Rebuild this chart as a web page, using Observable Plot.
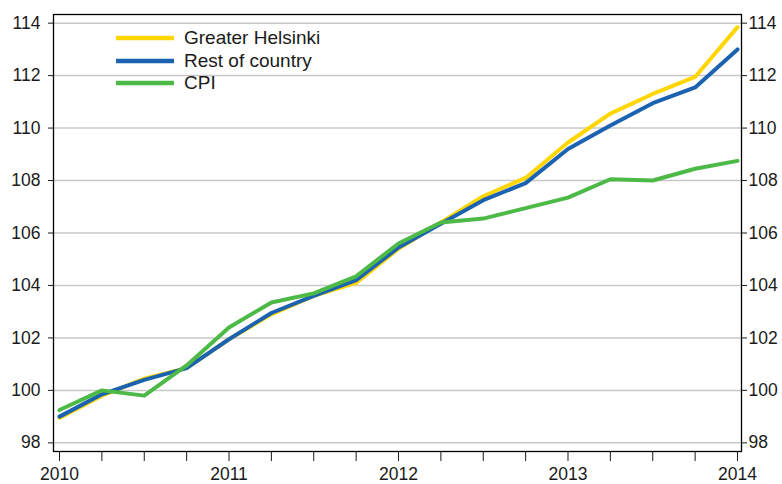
<!DOCTYPE html>
<html>
<head>
<meta charset="utf-8">
<script src="https://cdn.jsdelivr.net/npm/d3@7"></script>
<script src="https://cdn.jsdelivr.net/npm/@observablehq/plot@0.6"></script>
<style>
  html, body { margin: 0; padding: 0; background: #fff; }
  #wrap { position: relative; width: 782px; height: 484px; overflow: hidden; }
  #legend { position: absolute; left: 116px; top: 27px; font-family: "Liberation Sans", Arial, sans-serif; font-size: 19px; color: #1a1a1a; }
  #legend .row { display: flex; align-items: center; height: 22.6px; }
  #legend svg { margin-right: 10px; }
</style>
</head>
<body>
<div id="wrap"></div>
<script>
// Quarterly index values (2010Q1 – 2014Q1)
const quarters = ["2010Q1","2010Q2","2010Q3","2010Q4","2011Q1","2011Q2","2011Q3","2011Q4",
  "2012Q1","2012Q2","2012Q3","2012Q4","2013Q1","2013Q2","2013Q3","2013Q4","2014Q1"];
const greaterHelsinki = [98.95, 99.8, 100.45, 100.85, 101.95, 102.9, 103.6, 104.1,
  105.4, 106.4, 107.4, 108.1, 109.45, 110.55, 111.3, 111.95, 113.85];
const restOfCountry = [99.0, 99.85, 100.4, 100.85, 101.95, 102.95, 103.6, 104.2,
  105.45, 106.35, 107.25, 107.9, 109.2, 110.1, 110.95, 111.55, 113.0];
const cpi = [99.25, 100.0, 99.8, 100.95, 102.4, 103.35, 103.7, 104.35,
  105.6, 106.4, 106.55, 106.95, 107.35, 108.05, 108.0, 108.45, 108.75];

const seriesNames = ["Greater Helsinki", "Rest of country", "CPI"];
const seriesColors = ["#FFD600", "#1B63B1", "#4DB947"];
const yTicks = [98, 100, 102, 104, 106, 108, 110, 112, 114];
const yearLabels = [2010, 2011, 2012, 2013, 2014];

const toNum = q => +q.slice(0, 4) + (+q.slice(5) - 1) / 4;
const seriesValues = [greaterHelsinki, restOfCountry, cpi];
const data = seriesNames.flatMap((s, k) =>
  quarters.map((q, i) => ({ t: toNum(q), v: seriesValues[k][i], s })));
const quarterTicks = quarters.map(toNum);

const chart = Plot.plot({
  width: 782,
  height: 484,
  marginLeft: 53,
  marginRight: 41,
  marginTop: 14,
  marginBottom: 33,
  style: { fontFamily: "Liberation Sans, Arial, sans-serif", fontSize: "17.5px", color: "#1a1a1a", background: "#fff" },
  x: { domain: [2009.9646, 2014.0236] },
  y: { domain: [97.67, 114.33] },
  color: { domain: seriesNames, range: seriesColors },
  marks: [
    Plot.gridY(yTicks, { stroke: "#c8c8c8", strokeOpacity: 1, strokeWidth: 1.5 }),
    Plot.line(data, { x: "t", y: "v", z: "s", stroke: "s", strokeWidth: 4, strokeLinejoin: "round" }),
    Plot.frame({ stroke: "#000", strokeWidth: 1.3 }),
    Plot.axisY(yTicks, { anchor: "left", tickSize: 5, tickPadding: 8, label: null, tickFormat: d => String(d) }),
    Plot.axisY(yTicks, { anchor: "right", tickSize: 5, tickPadding: 2, label: null, tickFormat: d => String(d) }),
    Plot.axisX(quarterTicks, { anchor: "bottom", tickSize: 10, tickPadding: 6, label: null,
      tickFormat: d => yearLabels.includes(d) ? String(d) : "" })
  ]
});

const wrap = document.getElementById("wrap");
wrap.appendChild(chart);

const legend = document.createElement("div");
legend.id = "legend";
seriesNames.forEach((name, k) => {
  const row = document.createElement("div");
  row.className = "row";
  row.innerHTML = `<svg width="58" height="6"><line x1="0" x2="58" y1="3" y2="3" stroke="${seriesColors[k]}" stroke-width="4.5"/></svg><span>${name}</span>`;
  legend.appendChild(row);
});
wrap.appendChild(legend);
</script>
</body>
</html>
